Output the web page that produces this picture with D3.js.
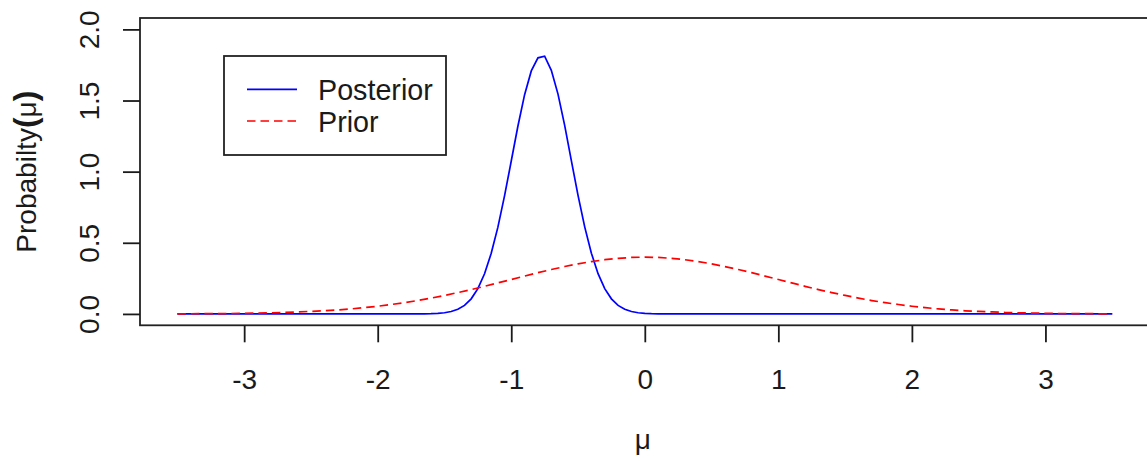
<!DOCTYPE html>
<html>
<head>
<meta charset="utf-8">
<script src="https://cdn.jsdelivr.net/npm/d3@7/dist/d3.min.js"></script>
<style>
  html, body { margin: 0; padding: 0; background: #fff; }
  svg { display: block; }
  text { font-family: "Liberation Sans", Arial, sans-serif; fill: #1a1a1a; }
</style>
</head>
<body>
<svg id="chart" width="1147" height="461"></svg>
<script>
// ---- data ----
const xTicks = [-3, -2, -1, 0, 1, 2, 3];
const yTicks = [0, 0.5, 1, 1.5, 2];
const yTickLabels = ["0.0", "0.5", "1.0", "1.5", "2.0"];
const seriesNames = ["Posterior", "Prior"];

const posteriorX = [-3.5, -1.65, -1.6, -1.55, -1.5, -1.45, -1.4, -1.35, -1.3, -1.25, -1.2, -1.15, -1.1, -1.05, -1.0,
  -0.95, -0.9, -0.85, -0.8, -0.75, -0.7, -0.65, -0.6, -0.55, -0.5, -0.45, -0.4, -0.35, -0.3, -0.25, -0.2,
  -0.15, -0.1, -0.05, 0.0, 0.05, 0.1, 3.5];
const posteriorY = [0, 0.0008, 0.0017, 0.0037, 0.0081, 0.0167, 0.033, 0.060, 0.106, 0.178, 0.282, 0.426, 0.610, 0.831, 1.075,
  1.321, 1.541, 1.708, 1.800, 1.812, 1.712, 1.545, 1.325, 1.078, 0.833, 0.612, 0.427, 0.283, 0.178, 0.106, 0.060,
  0.033, 0.0167, 0.0081, 0.0037, 0.0017, 0.0008, 0];

const priorX = [-3.5, -3.4, -3.3, -3.2, -3.1, -3.0, -2.9, -2.8, -2.7, -2.6, -2.5, -2.4, -2.3, -2.2, -2.1, -2.0,
  -1.9, -1.8, -1.7, -1.6, -1.5, -1.4, -1.3, -1.2, -1.1, -1.0, -0.9, -0.8, -0.7, -0.6, -0.5, -0.4, -0.3, -0.2, -0.1,
  0.0, 0.1, 0.2, 0.3, 0.4, 0.5, 0.6, 0.7, 0.8, 0.9, 1.0, 1.1, 1.2, 1.3, 1.4, 1.5, 1.6, 1.7, 1.8, 1.9, 2.0,
  2.1, 2.2, 2.3, 2.4, 2.5, 2.6, 2.7, 2.8, 2.9, 3.0, 3.1, 3.2, 3.3, 3.4, 3.5];
const priorY = [0.001, 0.001, 0.002, 0.002, 0.003, 0.004, 0.006, 0.008, 0.010, 0.014, 0.018, 0.022, 0.028, 0.035, 0.044, 0.054,
  0.066, 0.079, 0.094, 0.111, 0.130, 0.150, 0.171, 0.194, 0.218, 0.242, 0.266, 0.290, 0.312, 0.333, 0.352, 0.368, 0.381, 0.391, 0.397,
  0.399, 0.397, 0.391, 0.381, 0.368, 0.352, 0.333, 0.312, 0.290, 0.266, 0.242, 0.218, 0.194, 0.171, 0.150, 0.130, 0.111, 0.094, 0.079, 0.066, 0.054,
  0.044, 0.035, 0.028, 0.022, 0.018, 0.014, 0.010, 0.008, 0.006, 0.004, 0.003, 0.002, 0.002, 0.001, 0.001];

// ---- layout ----
const svg = d3.select("#chart");
const plot = { left: 140, top: 18, right: 1149.6, bottom: 325.3 };
const x = d3.scaleLinear().domain([-3.78, 3.78]).range([plot.left, plot.right]);
const y = d3.scaleLinear().domain([-0.08, 2.08]).range([plot.bottom, plot.top]);
const FS = 28;
const LFS = 28.7;
const ink = "#1a1a1a";

// lines
const line = d3.line().x(d => x(d[0])).y(d => y(d[1]));
const postData = posteriorX.map((v, i) => [v, posteriorY[i]]);
const priorData = priorX.map((v, i) => [v, priorY[i]]);

svg.append("path").datum(postData).attr("d", line)
  .attr("fill", "none").attr("stroke", "#0000ff").attr("stroke-width", 1.7);
svg.append("path").datum(priorData).attr("d", line)
  .attr("fill", "none").attr("stroke", "#ff0000").attr("stroke-width", 1.7)
  .attr("stroke-dasharray", "8.5,5");

// box
svg.append("rect").attr("x", plot.left).attr("y", plot.top)
  .attr("width", plot.right - plot.left).attr("height", plot.bottom - plot.top)
  .attr("fill", "none").attr("stroke", "#222").attr("stroke-width", 1.8);

// x axis
const xAxis = d3.axisBottom(x).tickValues(xTicks).tickSize(17).tickPadding(0).tickFormat(d => d);
const gx = svg.append("g").attr("transform", `translate(0,${plot.bottom})`).call(xAxis);
gx.select(".domain").remove();
gx.selectAll(".tick line").attr("stroke", ink).attr("stroke-width", 1.8);
gx.selectAll(".tick text").attr("font-size", FS).attr("fill", ink)
  .attr("y", 64).attr("dy", null).style("font-family", '"Liberation Sans", Arial, sans-serif');

// y axis
const yAxis = d3.axisLeft(y).tickValues(yTicks).tickSize(17).tickFormat((d, i) => yTickLabels[i]);
const gy = svg.append("g").attr("transform", `translate(${plot.left},0)`).call(yAxis);
gy.select(".domain").remove();
gy.selectAll(".tick line").attr("stroke", ink).attr("stroke-width", 1.8);
gy.selectAll(".tick text").attr("font-size", FS).attr("fill", ink)
  .attr("x", null).attr("dy", null)
  .attr("text-anchor", "middle")
  .attr("transform", "translate(-41,0) rotate(-90)")
  .attr("y", 0)
  .style("font-family", '"Liberation Sans", Arial, sans-serif');

// axis titles
svg.append("text").attr("x", (plot.left + plot.right) / 2 - 2).attr("y", 449)
  .attr("text-anchor", "middle").attr("font-size", FS).text("μ");

const yt = svg.append("text")
  .attr("transform", `translate(36,${(plot.top + plot.bottom) / 2}) rotate(-90)`)
  .attr("text-anchor", "middle").attr("font-size", FS);
yt.append("tspan").text("Probabilty");
yt.append("tspan").attr("font-size", 32).attr("font-weight", "bold").text("(");
yt.append("tspan").text("μ");
yt.append("tspan").attr("font-size", 32).attr("font-weight", "bold").text(")");

// legend
const lg = svg.append("g");
lg.append("rect").attr("x", 224).attr("y", 56).attr("width", 222).attr("height", 99)
  .attr("fill", "#fff").attr("stroke", "#222").attr("stroke-width", 1.8);
const legendColors = ["#0000ff", "#ff0000"];
const legendDash = [null, "8.5,5"];
const legendRows = [89.3, 121];
seriesNames.forEach((name, i) => {
  lg.append("line").attr("x1", 247).attr("x2", 297)
    .attr("y1", legendRows[i]).attr("y2", legendRows[i])
    .attr("stroke", legendColors[i]).attr("stroke-width", 1.7)
    .attr("stroke-dasharray", legendDash[i]);
  lg.append("text").attr("x", 318).attr("y", legendRows[i] + 11)
    .attr("font-size", LFS).text(name);
});
</script>
</body>
</html>
